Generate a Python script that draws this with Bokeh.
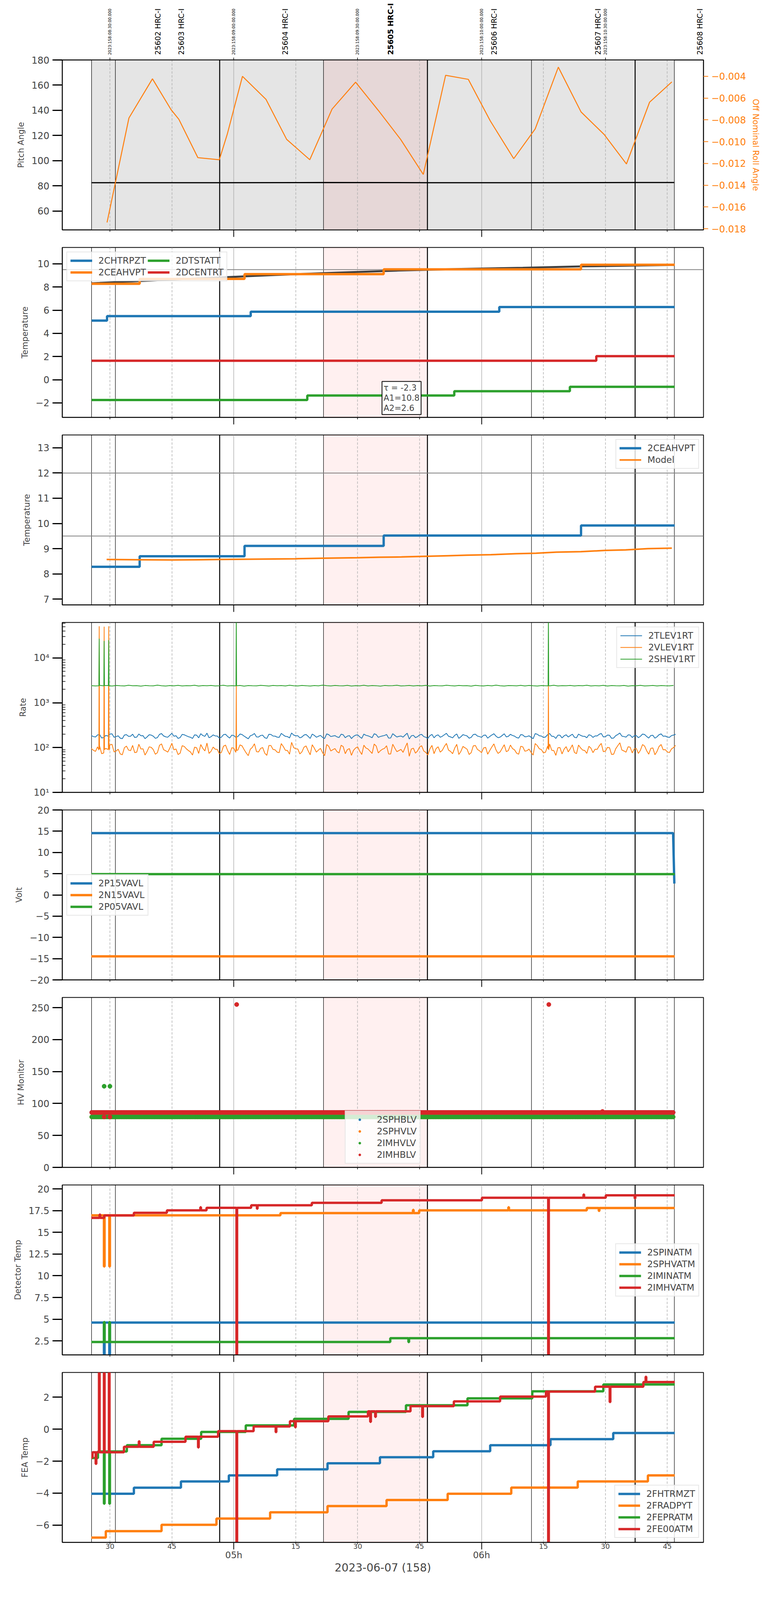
import math

import numpy as np

from bokeh.core.properties import value
from bokeh.embed import file_html
from bokeh.layouts import column
from bokeh.models import BoxAnnotation, FixedTicker, Label, LinearAxis, Range1d, Span
from bokeh.plotting import figure
from bokeh.resources import INLINE

FONT = "DejaVu Sans"
BLUE, ORANGE, GREEN, RED = "#1f77b4", "#ff7f0e", "#2ca02c", "#d62728"

# the page is captured about 4070 px tall, so the stack is laid out to fit that height
FRAME_W, FRAME_H = 1642, 435
GAP_TOP, GAP_BOTTOM = 18, 27
HEAD_H = 140

# x = minutes after 04:00 local (08:00 UTC) on 2023-06-07 (158)
X_START, X_END = 18.46, 173.76
PX_PER_MIN = FRAME_W / (X_END - X_START)
T_END = 166.8
HOURS = [60, 120]
QUARTERS = [30, 45, 75, 90, 105, 135, 150, 165]
quarter_labels = ["30", "45", "15", "30", "45", "15", "30", "45"]
hour_labels = ["05h", "06h"]
top_ticks = [30, 60, 90, 120, 150]
top_labels = ["2023:158:08:30:00.000", "2023:158:09:00:00.000", "2023:158:09:30:00.000",
              "2023:158:10:00:00.000", "2023:158:10:30:00.000"]

obs_names = ["25602 HRC-I", "25603 HRC-I", "25604 HRC-I", "25605 HRC-I",
             "25606 HRC-I", "25607 HRC-I", "25608 HRC-I"]
obs_start = [25.55, 31.32, 56.58, 81.73, 106.9, 132.1, 157.2]
obs_stop = 166.7
obs_label_t = [41.6, 47.3, 72.4, 98.0, 123.0, 148.2, 172.9]
FOCUS = 3
THICK = (2, 4, 6)

# panel 1: pitch and off nominal roll
pitch_t = [25.6, 56.5, 81.7, 106.9, 132.1, 157.2, 166.7]
pitch_v = [82.5, 82.5, 82.6, 82.5, 82.5, 82.6, 82.6]
roll_t = [29.3, 34.6, 40.3, 44.8, 46.7, 51.3, 56.5, 58.4, 62.1, 67.8, 72.8, 78.4, 83.8, 89.5,
          95.0, 100.4, 105.9, 111.3, 116.8, 122.1, 127.8, 133.0, 138.6, 144.1, 149.7, 155.1,
          160.7, 166.1]
roll_v = [-0.01742, -0.00783, -0.00423, -0.00706, -0.00795, -0.01147, -0.01166, -0.00934,
          -0.00400, -0.00612, -0.00979, -0.01166, -0.00701, -0.00454, -0.00713, -0.00979,
          -0.01301, -0.00391, -0.00428, -0.00808, -0.01156, -0.00883, -0.00316, -0.00727,
          -0.00934, -0.01205, -0.00638, -0.00451]
roll_ticks = [-0.018, -0.016, -0.014, -0.012, -0.010, -0.008, -0.006, -0.004]

# panel 2: temperatures (step changes)
chtr_t = [25.55, 29.3, 64.1, 124.3]
chtr_v = [5.10, 5.49, 5.87, 6.27]
ceah_t = [25.55, 37.2, 62.6, 96.3, 144.1]
ceah_v = [8.28, 8.70, 9.11, 9.52, 9.92]
dtst_t = [25.55, 77.8, 113.4, 141.4]
dtst_v = [-1.75, -1.36, -0.99, -0.61]
dcen_t = [25.55, 147.8]
dcen_v = [1.64, 2.03]
trend_t = [25.6, 40, 55, 70, 85, 100, 115, 130, 145, 166.8]
trend_v = [8.32, 8.55, 8.80, 9.03, 9.24, 9.42, 9.56, 9.66, 9.78, 9.90]
fit_text = "\u03c4 = -2.3\nA1=10.8\nA2=2.6"

# panel 3: 2CEAHVPT vs model
model_t = [29.2, 37.1, 45.0, 56.6, 75.0, 81.7, 90.1, 95.2, 100.6, 105.1, 111.8, 116.4, 122.3,
           128.3, 133.2, 138.1, 144.1, 150.0, 154.9, 160.3, 166.1]
model_v = [8.57, 8.56, 8.55, 8.57, 8.60, 8.62, 8.64, 8.66, 8.67, 8.69, 8.72, 8.74, 8.76, 8.80,
           8.82, 8.86, 8.88, 8.93, 8.95, 9.00, 9.02]

# panel 4: rates; two interleaved readings per minute (on the minute and half a minute later)
RATE_T0, RATE_DT = 25.5, 1.0
tlev = [185, 172, 196, 168, 181, 203, 176, 162, 190, 178, 199, 171, 184, 158, 193, 180, 167, 205, 174, 188,
        179, 160, 197, 183, 170, 192, 165, 186, 210, 175, 182, 163, 194, 177, 189, 169, 201, 180, 157, 191,
        173, 186, 166, 198, 181, 171, 207, 178, 164, 190, 184, 172, 196, 160, 187, 179, 169, 202, 176, 185,
        168, 193, 180, 159, 189, 174, 200, 183, 166, 195, 177, 186, 163, 204, 172, 181, 190, 155, 188, 175,
        197, 170, 184, 165, 192, 179, 208, 173, 187, 161, 194, 182, 169, 199, 176, 188, 162, 191, 180, 171,
        203, 178, 186, 167, 195, 174, 183, 158, 198, 181, 172, 206, 177, 189, 164, 193, 185, 170, 200, 179,
        166, 187, 182, 198, 173, 190, 161, 184, 211, 176, 192, 168, 185, 179, 196, 163, 188, 174, 202, 181,
        169, 190]
tlev_half = [176, 191, 164, 187, 199, 170, 183, 158, 194, 179, 168, 201, 185, 173, 190, 161, 197, 182, 170, 208,
             184, 167, 193, 175, 160, 189, 204, 178, 166, 192, 181, 171, 198, 163, 186, 177, 195, 168, 183, 206,
             172, 189, 160, 196, 180, 169, 191, 176, 212, 184, 165, 190, 178, 200, 170, 187, 159, 194, 181, 173,
             199, 166, 185, 178, 192, 161, 188, 175, 203, 169, 182, 196, 164, 187, 178, 171, 209, 183, 167, 192,
             176, 160, 197, 185, 170, 193, 179, 165, 201, 174, 188, 162, 195, 181, 169, 190, 177, 204, 166, 186,
             173, 198, 180, 163, 191, 176, 170, 205, 184, 168, 194, 179, 160, 189, 183, 172, 199, 165, 187, 178,
             193, 169, 182, 207, 175, 188, 163, 196, 180, 171, 190, 184, 166, 200, 177, 186, 162, 194, 179, 172,
             185, 198]
vlev = [95, 82, 108, 76, 91, 118, 84, 72, 99, 88, 112, 79, 93, 68, 104, 90, 77, 121, 85, 97,
        89, 70, 110, 94, 80, 102, 74, 96, 126, 83, 92, 73, 107, 86, 99, 78, 115, 90, 66, 101,
        81, 96, 75, 111, 91, 79, 123, 87, 71, 100, 93, 80, 109, 69, 97, 88, 77, 117, 84, 95,
        76, 105, 90, 67, 98, 83, 113, 93, 74, 108, 85, 96, 72, 119, 81, 91, 101, 64, 97, 84,
        110, 78, 94, 73, 104, 87, 124, 82, 97, 70, 106, 92, 77, 112, 85, 98, 71, 103, 89, 80,
        116, 86, 95, 75, 107, 83, 93, 68, 111, 90, 79, 120, 86, 99, 72, 105, 94, 78, 114, 88,
        74, 97, 92, 109, 81, 101, 70, 94, 128, 84, 104, 76, 95, 88, 108, 71, 98, 82, 117, 90,
        77, 100]
vlev_half = [87, 104, 73, 96, 115, 80, 92, 69, 108, 85, 77, 119, 94, 82, 101, 71, 112, 90, 79, 125,
             93, 75, 106, 86, 68, 99, 117, 84, 74, 103, 91, 78, 114, 70, 97, 88, 109, 76, 92, 122,
             80, 100, 67, 111, 89, 77, 105, 86, 131, 94, 72, 102, 85, 116, 79, 96, 66, 107, 90, 81,
             113, 73, 95, 87, 104, 70, 98, 83, 120, 76, 92, 110, 72, 97, 86, 78, 127, 93, 75, 103,
             84, 68, 112, 95, 79, 106, 88, 73, 118, 82, 99, 70, 109, 91, 77, 101, 86, 121, 74, 96,
             81, 114, 89, 71, 104, 85, 78, 123, 94, 76, 108, 87, 67, 100, 92, 80, 115, 73, 98, 86,
             107, 77, 91, 124, 83, 99, 71, 110, 88, 79, 102, 94, 74, 117, 85, 96, 69, 106, 89, 80,
             93, 112]
shev = [2410, 2370, 2450, 2390, 2420, 2360, 2440, 2400, 2380, 2460, 2395, 2415, 2350, 2430, 2405, 2385, 2470, 2400, 2365, 2425,
        2390, 2445, 2375, 2410, 2400, 2455, 2360, 2420, 2395, 2435, 2380, 2405, 2465, 2370, 2415, 2390, 2440, 2355, 2425, 2400,
        2385, 2450, 2410, 2365, 2430, 2395, 2420, 2375, 2460, 2400, 2380, 2440, 2405, 2360, 2425, 2390, 2475, 2410, 2370, 2435,
        2400, 2385, 2445, 2365, 2415, 2390, 2455, 2375, 2420, 2405, 2350, 2430, 2395, 2410, 2465, 2380, 2400, 2440, 2370, 2420,
        2390, 2450, 2360, 2425, 2400, 2385, 2460, 2410, 2375, 2435, 2395, 2415, 2355, 2445, 2405, 2380, 2430, 2390, 2470, 2400,
        2365, 2420, 2410, 2385, 2450, 2375, 2440, 2395, 2360, 2425, 2405, 2390, 2455, 2370, 2415, 2400, 2435, 2380, 2420, 2395,
        2460, 2375, 2410, 2390, 2445, 2365, 2425, 2400, 2385, 2440, 2355, 2415, 2395, 2450, 2380, 2405, 2430, 2370, 2420, 2400,
        2390, 2435]
spike_t = [27.32, 27.4, 27.48, 28.52, 28.6, 28.68, 29.62, 29.7, 29.78,
           60.52, 60.6, 60.68, 136.12, 136.2, 136.28]
vlev_spike = [88, 51000, 92, 85, 50000, 90, 94, 51000, 87, 91, 2400, 86, 93, 2400, 89]
shev_spike = [2400, 27000, 2410, 2390, 24000, 2420, 2405, 25000, 2395,
              2410, 90000, 2400, 2390, 90000, 2415]

# panel 5: voltages
p15_t = [25.5, 166.4, 166.7]
p15_v = [14.56, 14.56, 2.68]
n15_t = [25.5, 166.8]
n15_v = [-14.45, -14.45]
p05_t = [25.5, 166.8]
p05_v = [4.89, 4.89]

# panel 6: HV monitor, one reading every 0.4 min (the HRC-S pair sits under the HRC-I pair)
HV_T0, HV_T1, HV_DT = 25.6, 166.8, 0.4
sphb_level = 86.0
sphv_level = 79.0
imhv_level = 79.0
imhb_level = 86.0
imhv_out_t = [28.6, 30.0]
imhv_out_v = [127, 127]
imhb_out_t = [28.6, 30.0, 60.7, 136.3, 149.3]
imhb_out_v = [79, 79, 255, 255, 87.5]

# panel 7: detector temperatures
spin_t = [25.5, 28.55, 28.7, 29.85, 30.0]
spin_v = [4.61, 0.0, 4.61, 0.0, 4.61]
sphv_t = [25.5, 28.55, 28.7, 29.85, 30.0, 71.3, 103.4, 103.55, 104.9, 126.5, 126.65, 145.5, 148.4, 148.55]
sphv_v = [16.97, 11.07, 16.97, 11.07, 16.97, 17.23, 17.60, 17.23, 17.54, 17.90, 17.54, 17.81, 17.48, 17.81]
imin_t = [25.5, 28.55, 28.7, 29.85, 30.0, 97.9, 102.3, 102.45]
imin_v = [2.37, 4.66, 2.37, 4.66, 2.37, 2.80, 2.36, 2.80]
imhva_t = [25.5, 27.5, 27.65, 28.6, 35.8, 43.8, 51.9, 52.05, 53.4, 60.65, 60.8, 64.2, 65.6, 65.75,
           78.9, 95.8, 120.1, 136.15, 136.3, 144.7, 144.85, 150.1, 157.1, 157.25]
imhva_v = [16.68, 17.06, 16.68, 16.96, 17.26, 17.54, 17.90, 17.54, 17.83, 0.0, 17.83, 18.13, 17.73, 18.13,
           18.41, 18.70, 19.00, 0.0, 19.00, 19.37, 19.00, 19.28, 18.93, 19.28]

# panel 8: FEA temperatures
fhtr_t = [25.5, 35.8, 47.2, 58.8, 70.5, 82.7, 95.4, 108.3, 122.1, 136.7, 151.9]
fhtr_v = [-4.04, -3.66, -3.27, -2.89, -2.51, -2.13, -1.75, -1.38, -1.00, -0.62, -0.24]
frad_t = [25.5, 29.0, 42.5, 55.8, 68.8, 82.7, 97.0, 111.8, 127.2, 143.3, 160.3]
frad_v = [-6.78, -6.38, -5.98, -5.59, -5.20, -4.81, -4.43, -4.04, -3.65, -3.27, -2.89]
fepr_t = [25.5, 27.1, 28.55, 28.7, 29.85, 30.0, 34.1, 42.5, 52.1, 62.9, 74.6, 87.8, 101.7, 116.6, 132.3, 149.5]
fepr_v = [-1.80, -1.39, -4.66, -1.39, -4.66, -1.39, -1.00, -0.60, -0.17, 0.24, 0.65, 1.08, 1.50, 1.93, 2.37, 2.80]
fe00_t = [25.5, 25.8, 26.55, 26.7, 27.35, 27.5, 28.55, 28.7, 29.75, 29.9, 33.4, 37.0, 37.15, 40.6, 48.3,
          51.35, 51.5, 56.2, 60.65, 60.8, 64.8, 70.15, 70.3, 73.6, 74.85, 75.0, 82.9, 92.5, 93.05, 93.2,
          94.25, 94.4, 102.8, 105.65, 105.8, 113.3, 124.5, 135.6, 136.15, 136.3, 147.5, 151.05, 151.2,
          159.2, 159.75, 159.9]
fe00_v = [-1.78, -1.44, -2.17, -1.44, 5.0, -1.44, 5.0, -1.44, 5.0, -1.44, -1.10, -0.76, -1.10, -0.79, -0.47,
          -1.14, -0.47, -0.12, -9.0, -0.12, 0.17, -0.18, 0.17, 0.50, 0.12, 0.50, 0.80, 1.12, 0.46, 1.12,
          0.77, 1.12, 1.44, 0.77, 1.44, 1.74, 2.04, 2.35, -9.0, 2.35, 2.66, 1.70, 2.66,
          2.95, 3.28, 2.95]


def step_xy(t, v):
    return list(t) + [T_END], list(v) + [v[-1]]


def panel(ylabel, y_range, y_ticks, top=GAP_TOP, bottom=GAP_BOTTOM, log=False, shade=False, right=160):
    p = figure(frame_width=FRAME_W, frame_height=FRAME_H, x_range=Range1d(X_START, X_END), y_range=y_range,
               y_axis_type="log" if log else "linear", output_backend="svg", toolbar_location=None,
               min_border_left=159, min_border_right=right, min_border_top=top, min_border_bottom=bottom)
    p.outline_line_color = "black"
    p.outline_line_width = 2
    p.ygrid.visible = False
    p.xgrid.ticker = FixedTicker(ticks=HOURS, minor_ticks=QUARTERS)
    p.xgrid.grid_line_color = "#b0b0b0"
    p.xgrid.grid_line_width = 1.5
    p.xgrid.minor_grid_line_color = "#b0b0b0"
    p.xgrid.minor_grid_line_width = 1.5
    p.xgrid.minor_grid_line_dash = "6 4"

    xa = p.below[0]
    xa.ticker = FixedTicker(ticks=HOURS, minor_ticks=QUARTERS)
    xa.major_label_overrides = {h: "" for h in HOURS}
    xa.major_label_text_font_size = "5px"
    xa.major_label_standoff = 0
    xa.major_tick_out, xa.major_tick_in, xa.major_tick_line_width = 18, 0, 2
    xa.minor_tick_out, xa.minor_tick_in, xa.minor_tick_line_width = 5, 0, 1.5
    xa.axis_line_width = 2

    ya = p.left[0]
    ya.ticker = FixedTicker(ticks=y_ticks)
    ya.axis_label = ylabel
    ya.axis_label_text_font = FONT
    ya.axis_label_text_font_size = "21px"
    ya.axis_label_text_font_style = "normal"
    ya.axis_label_standoff = 12
    ya.major_label_text_font = FONT
    ya.major_label_text_font_size = "24px"
    ya.major_label_standoff = 8
    ya.major_tick_out, ya.major_tick_in, ya.major_tick_line_width = 25, 0, 3
    ya.minor_tick_line_color = None
    ya.axis_line_width = 2

    if shade:
        p.add_layout(BoxAnnotation(left=obs_start[0], right=obs_stop, fill_color="#e5e5e5",
                                   fill_alpha=1.0, line_color=None, level="image"))
    p.add_layout(BoxAnnotation(left=obs_start[FOCUS], right=obs_start[FOCUS + 1], fill_color="#ff0000",
                               fill_alpha=0.06, line_color=None, level="image"))
    for i, t in enumerate(obs_start + [obs_stop]):
        p.add_layout(Span(location=t, dimension="height", line_color="black",
                          line_width=2.5 if i in THICK else 1.2, level="underlay"))
    return p


def style_legend(p, loc, ncols=None):
    lg = p.legend[0]
    lg.location = loc
    lg.label_text_font = FONT
    lg.label_text_font_size = "23px"
    lg.glyph_width = 56
    lg.glyph_height = 14
    lg.label_height = 24
    lg.label_standoff = 16
    lg.spacing = 4
    lg.padding = 8
    lg.margin = 11
    lg.border_line_color = "#d0d0d0"
    lg.border_line_width = 2
    lg.background_fill_alpha = 0.8
    if ncols:
        lg.ncols = ncols


def merged(base, half, spk=None):
    t = np.concatenate([RATE_T0 + np.arange(len(base)) * RATE_DT,
                        RATE_T0 + RATE_DT / 2 + np.arange(len(half)) * RATE_DT])
    v = np.concatenate([np.array(base, dtype=float), np.array(half, dtype=float)])
    if spk is not None:
        t = np.concatenate([t, spike_t])
        v = np.concatenate([v, spk])
    order = np.argsort(t, kind="stable")
    return t[order], v[order]


figs = []

# header strip: UTC time stamps and observation ids above the first panel
extra = 40
head = figure(frame_width=FRAME_W + extra, frame_height=HEAD_H,
              x_range=Range1d(X_START, X_END + extra / PX_PER_MIN), y_range=Range1d(0, HEAD_H),
              x_axis_location=None, y_axis_location=None, output_backend="svg", toolbar_location=None,
              min_border_left=159, min_border_right=10, min_border_top=0, min_border_bottom=0)
head.grid.visible = False
head.outline_line_color = None
head.text(x=top_ticks, y=[0] * len(top_ticks), text=top_labels, angle=math.pi / 2,
          text_align="left", text_baseline="middle", text_font=value(FONT), text_font_size="10px")
plain = [i for i in range(len(obs_names)) if i != FOCUS]
head.text(x=[obs_label_t[i] for i in plain], y=[0] * len(plain), text=[obs_names[i] for i in plain],
          angle=math.pi / 2, text_align="left", text_baseline="middle", text_font=value(FONT),
          text_font_size="19px")
head.text(x=[obs_label_t[FOCUS]], y=[0], text=[obs_names[FOCUS]], angle=math.pi / 2,
          text_align="left", text_baseline="middle", text_font=value(FONT), text_font_size="19px",
          text_font_style="bold")
figs.append(head)

# 1 pitch / roll
p = panel("Pitch Angle", Range1d(45, 180), list(range(60, 181, 20)), top=13, shade=True, right=185)
p.extra_y_ranges = {"roll": Range1d(-0.0181, -0.0025)}
p.line(pitch_t, pitch_v, color="black", line_width=3)
p.line(roll_t, roll_v, color=ORANGE, line_width=2.5, y_range_name="roll")
ax_r = LinearAxis(y_range_name="roll", axis_label="Off Nominal Roll Angle",
                  ticker=FixedTicker(ticks=roll_ticks),
                  major_label_overrides={v: "\u2212%.3f" % abs(v) for v in roll_ticks})
ax_r.axis_label_text_color = ORANGE
ax_r.axis_label_text_font = FONT
ax_r.axis_label_text_font_size = "21px"
ax_r.axis_label_text_font_style = "normal"
ax_r.axis_label_standoff = 10
ax_r.major_label_text_color = ORANGE
ax_r.major_label_text_font = FONT
ax_r.major_label_text_font_size = "24px"
ax_r.major_label_standoff = 8
ax_r.major_tick_line_color = ORANGE
ax_r.major_tick_out, ax_r.major_tick_in, ax_r.major_tick_line_width = 12, 0, 2
ax_r.minor_tick_line_color = None
ax_r.axis_line_width = 2
p.add_layout(ax_r, "right")
ax_t = LinearAxis(ticker=FixedTicker(ticks=top_ticks), major_label_overrides={t: "" for t in top_ticks})
ax_t.major_label_text_font_size = "4px"
ax_t.major_label_standoff = 0
ax_t.major_tick_out, ax_t.major_tick_in, ax_t.major_tick_line_width = 6, 0, 1.5
ax_t.minor_tick_line_color = None
ax_t.axis_line_width = 2
p.add_layout(ax_t, "above")
figs.append(p)

# 2 temperatures
p = panel("Temperature", Range1d(-3.25, 11.41), list(range(-2, 11, 2)))
p.add_layout(Span(location=9.5, dimension="width", line_color="gray", line_width=2, level="underlay"))
p.line(trend_t, trend_v, color="#404040", line_width=5)
for t, v, c, name in [(chtr_t, chtr_v, BLUE, "2CHTRPZT"), (ceah_t, ceah_v, ORANGE, "2CEAHVPT"),
                      (dtst_t, dtst_v, GREEN, "2DTSTATT"), (dcen_t, dcen_v, RED, "2DCENTRT")]:
    xs, ys = step_xy(t, v)
    p.step(xs, ys, mode="after", color=c, line_width=6, legend_label=name)
style_legend(p, "top_left", ncols=2)
p.add_layout(Label(x=95.9, y=-0.15, text=fit_text, text_align="left", text_baseline="top",
                   text_font=FONT, text_font_size="21px", text_line_height=1.1,
                   background_fill_color="white", border_line_color="black", border_line_width=2,
                   padding=4))
figs.append(p)

# 3 2CEAHVPT vs model
p = panel("Temperature", Range1d(6.77, 13.51), list(range(7, 14)))
for lim in (12, 9.5):
    p.add_layout(Span(location=lim, dimension="width", line_color="gray", line_width=2, level="underlay"))
xs, ys = step_xy(ceah_t, ceah_v)
p.step(xs, ys, mode="after", color=BLUE, line_width=6, legend_label="2CEAHVPT")
p.line(model_t, model_v, color=ORANGE, line_width=4, legend_label="Model")
style_legend(p, "top_right")
figs.append(p)

# 4 rates
p = panel("Rate", Range1d(10, 62000), [10, 100, 1000, 10000], log=True)
ya = p.left[0]
ya.ticker = FixedTicker(ticks=[10, 100, 1000, 10000],
                        minor_ticks=[m * 10 ** e for e in range(1, 5) for m in range(2, 10)])
ya.major_label_overrides = {10: "10\u00b9", 100: "10\u00b2", 1000: "10\u00b3", 10000: "10\u2074"}
ya.minor_tick_line_color = "black"
ya.minor_tick_in, ya.minor_tick_out, ya.minor_tick_line_width = 8, 0, 1.5
t, v = merged(tlev, tlev_half)
p.line(t, v, color=BLUE, line_width=2, legend_label="2TLEV1RT")
t, v = merged(vlev, vlev_half, vlev_spike)
p.line(t, v, color=ORANGE, line_width=2, legend_label="2VLEV1RT")
t, v = merged(shev, [], shev_spike)
p.line(t, v, color=GREEN, line_width=2, legend_label="2SHEV1RT")
style_legend(p, "top_right")
figs.append(p)

# 5 voltages
p = panel("Volt", Range1d(-20, 20), list(range(-20, 21, 5)))
p.line(p15_t, p15_v, color=BLUE, line_width=6, legend_label="2P15VAVL")
p.line(n15_t, n15_v, color=ORANGE, line_width=6, legend_label="2N15VAVL")
p.line(p05_t, p05_v, color=GREEN, line_width=6, legend_label="2P05VAVL")
style_legend(p, "left")
figs.append(p)

# 6 HV monitor
p = panel("HV Monitor", Range1d(0, 266), list(range(0, 251, 50)))
hv_t = np.arange(HV_T0, HV_T1, HV_DT)
n_hv = len(hv_t)
p.scatter(hv_t, np.full(n_hv, sphb_level), size=11, color=BLUE, legend_label="2SPHBLV")
p.scatter(hv_t, np.full(n_hv, sphv_level), size=11, color=ORANGE, legend_label="2SPHVLV")
p.scatter(np.concatenate([hv_t, imhv_out_t]), np.concatenate([np.full(n_hv, imhv_level), imhv_out_v]),
          size=11, color=GREEN, legend_label="2IMHVLV")
p.scatter(np.concatenate([hv_t, imhb_out_t]), np.concatenate([np.full(n_hv, imhb_level), imhb_out_v]),
          size=11, color=RED, legend_label="2IMHBLV")
style_legend(p, "bottom_center")
p.legend[0].margin = 9
figs.append(p)

# 7 detector temperatures
p = panel("Detector Temp", Range1d(0.88, 20.47), [2.5, 5.0, 7.5, 10.0, 12.5, 15.0, 17.5, 20.0])
for t, v, c, name in [(spin_t, spin_v, BLUE, "2SPINATM"), (sphv_t, sphv_v, ORANGE, "2SPHVATM"),
                      (imin_t, imin_v, GREEN, "2IMINATM"), (imhva_t, imhva_v, RED, "2IMHVATM")]:
    xs, ys = step_xy(t, v)
    p.step(xs, ys, mode="after", color=c, line_width=6, legend_label=name)
style_legend(p, "right")
figs.append(p)

# 8 FEA temperatures, with the time axis labels
p = panel("FEA Temp", Range1d(-7.08, 3.55), [-6, -4, -2, 0, 2], bottom=0)
for t, v, c, name in [(fhtr_t, fhtr_v, BLUE, "2FHTRMZT"), (frad_t, frad_v, ORANGE, "2FRADPYT"),
                      (fepr_t, fepr_v, GREEN, "2FEPRATM"), (fe00_t, fe00_v, RED, "2FE00ATM")]:
    xs, ys = step_xy(t, v)
    p.step(xs, ys, mode="after", color=c, line_width=6, legend_label=name)
style_legend(p, "bottom_right")
xa = p.below[0]
xa.ticker = FixedTicker(ticks=QUARTERS, minor_ticks=HOURS)
xa.major_label_overrides = dict(zip(QUARTERS, quarter_labels))
xa.major_label_text_font = FONT
xa.major_label_text_font_size = "18px"
xa.major_label_standoff = -15
xa.major_tick_out, xa.major_tick_line_width = 5, 1.5
xa.minor_tick_out, xa.minor_tick_line_width = 18, 2
ax_h = LinearAxis(ticker=FixedTicker(ticks=HOURS), major_label_overrides=dict(zip(HOURS, hour_labels)),
                  axis_label="2023-06-07 (158)")
ax_h.axis_line_color = None
ax_h.major_tick_line_color = None
ax_h.minor_tick_line_color = None
ax_h.major_tick_out, ax_h.major_tick_in, ax_h.minor_tick_out, ax_h.minor_tick_in = 0, 0, 0, 0
ax_h.major_label_text_font = FONT
ax_h.major_label_text_font_size = "23px"
ax_h.major_label_standoff = 0
ax_h.axis_label_text_font = FONT
ax_h.axis_label_text_font_size = "28px"
ax_h.axis_label_text_font_style = "normal"
ax_h.axis_label_standoff = 0
p.add_layout(ax_h, "below")
figs.append(p)

layout = column(*figs)
open("out.html", "w").write(file_html(layout, INLINE, "HRC"))
